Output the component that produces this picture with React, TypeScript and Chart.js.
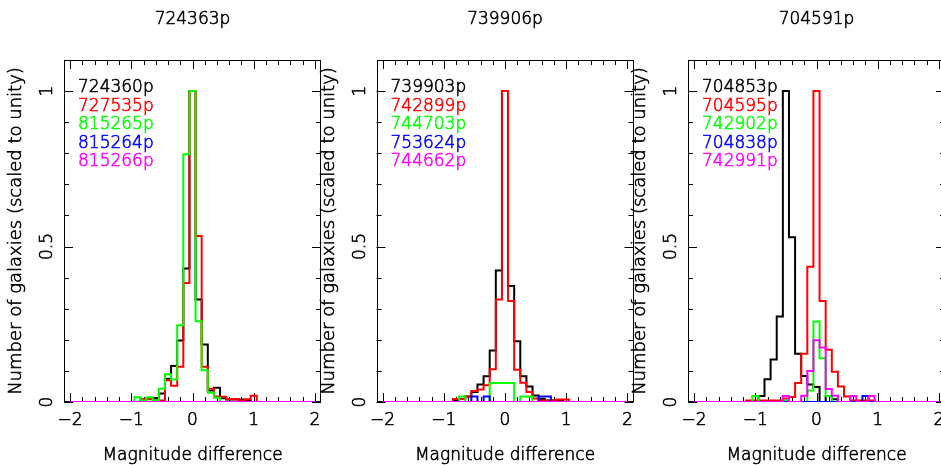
import React, { useEffect, useRef } from "react";
import { Chart, registerables } from "chart.js";

Chart.register(...registerables);

// ---------- data ----------
const BIN_CENTERS = [-1.2, -1.1, -1.0, -0.9, -0.8, -0.7, -0.6, -0.5, -0.4, -0.3, -0.2, -0.1, 0.0, 0.1, 0.2, 0.3, 0.4, 0.5, 0.6, 0.7, 0.8, 0.9, 1.0, 1.1];
const BIN_HALF_WIDTH = 0.05;
const HIST_START = -2;
const HIST_END = 2;

const X_TICK_VALUES = [-2, -1, 0, 1, 2];
const X_TICK_LABELS = ["\u22122", "\u22121", "0", "1", "2"];
const Y_TICK_VALUES = [0, 0.5, 1];
const Y_TICK_LABELS = ["0", "0.5", "1"];

const X_AXIS_TITLE = "Magnitude difference";
const Y_AXIS_TITLE = "Number of galaxies (scaled to unity)";

const SERIES_COLORS = ["#000000", "#ff0000", "#00ff00", "#0000ff", "#ff00ff"];

// Panel 1
const P1_TITLE = "724363p";
const P1_LABELS = ["724360p", "727535p", "815265p", "815264p", "815266p"];
const P1_BLACK = [0, 0, 0, 0, 0.008, 0.01, 0.013, 0.027, 0.075, 0.116, 0.198, 0.429, 1.0, 0.33, 0.185, 0.037, 0.046, 0.012, 0.008, 0.008, 0.008, 0.005, 0, 0];
const P1_RED = [0, 0, 0, 0, 0.01, 0.01, 0.005, 0.005, 0.07, 0.052, 0.113, 0.383, 1.0, 0.534, 0.113, 0.043, 0.018, 0.017, 0.01, 0.01, 0.005, 0.009, 0.02, 0];
const P1_GREEN = [0, 0, 0, 0.015, 0.005, 0.015, 0.005, 0.043, 0.089, 0.072, 0.247, 0.797, 1.0, 0.26, 0.102, 0.03, 0.014, 0, 0, 0, 0, 0, 0, 0];
const P1_BLUE = [0, 0, 0, 0, 0, 0, 0, 0, 0, 0, 0, 0, 0, 0, 0, 0, 0, 0, 0, 0, 0, 0, 0, 0];
const P1_MAGENTA = [0, 0, 0, 0, 0, 0, 0, 0, 0, 0, 0, 0, 0, 0, 0, 0, 0, 0, 0, 0, 0, 0, 0, 0];

// Panel 2
const P2_TITLE = "739906p";
const P2_LABELS = ["739903p", "742899p", "744703p", "753624p", "744662p"];
const P2_BLACK = [0, 0, 0, 0, 0.005, 0.01, 0.018, 0.032, 0.056, 0.083, 0.166, 0.423, 1.0, 0.373, 0.195, 0.083, 0.05, 0.021, 0.01, 0.005, 0.005, 0.005, 0, 0];
const P2_RED = [0, 0, 0, 0, 0.01, 0.01, 0.018, 0.035, 0.04, 0.054, 0.105, 0.33, 1.0, 0.325, 0.104, 0.062, 0.032, 0.011, 0.005, 0.005, 0.005, 0.008, 0.008, 0];
const P2_GREEN = [0, 0, 0, 0, 0, 0.018, 0, 0, 0, 0, 0.061, 0.061, 0.061, 0.061, 0, 0.018, 0.018, 0, 0, 0, 0, 0, 0, 0];
const P2_BLUE = [0, 0, 0, 0, 0, 0, 0, 0.018, 0, 0.018, 0, 0, 0, 0, 0, 0, 0, 0, 0.018, 0.018, 0, 0, 0, 0];
const P2_MAGENTA = [0, 0, 0, 0, 0, 0, 0, 0, 0, 0, 0, 0, 0, 0, 0, 0, 0, 0, 0, 0, 0, 0, 0, 0];

// Panel 3
const P3_TITLE = "704591p";
const P3_LABELS = ["704853p", "704595p", "742902p", "704838p", "742991p"];
const P3_BLACK = [0, 0, 0, 0.019, 0.073, 0.137, 0.275, 1.0, 0.53, 0.155, 0.084, 0.056, 0.048, 0, 0.019, 0.009, 0, 0, 0, 0, 0, 0, 0, 0];
const P3_RED = [0, 0.005, 0.005, 0.005, 0.005, 0.005, 0.005, 0.011, 0.016, 0.061, 0.155, 0.435, 1.0, 0.325, 0.168, 0.097, 0.05, 0.018, 0.005, 0.005, 0.005, 0.005, 0, 0];
const P3_GREEN = [0, 0, 0.019, 0, 0, 0, 0, 0.005, 0, 0, 0, 0.037, 0.259, 0.141, 0.019, 0, 0, 0, 0, 0, 0, 0, 0, 0];
const P3_BLUE = [0, 0, 0, 0, 0, 0, 0, 0, 0, 0, 0, 0, 0, 0, 0, 0, 0, 0, 0, 0, 0.019, 0, 0, 0];
const P3_MAGENTA = [0, 0, 0, 0, 0, 0, 0, 0.019, 0, 0, 0.02, 0.1, 0.199, 0.175, 0.042, 0.02, 0, 0, 0.019, 0, 0, 0.019, 0, 0];

const PANELS = [
  { title: P1_TITLE, labels: P1_LABELS, series: [P1_BLACK, P1_RED, P1_GREEN, P1_BLUE, P1_MAGENTA] },
  { title: P2_TITLE, labels: P2_LABELS, series: [P2_BLACK, P2_RED, P2_GREEN, P2_BLUE, P2_MAGENTA] },
  { title: P3_TITLE, labels: P3_LABELS, series: [P3_BLACK, P3_RED, P3_GREEN, P3_BLUE, P3_MAGENTA] },
];

// ---------- layout ----------
const VIEW_W = 941;
const VIEW_H = 465;
const CANVAS_W = 960;
const PANEL_LEFTS = [64, 376.5, 688];
const PLOT_W = 257;
const PLOT_TOP = 60;
const PLOT_BOTTOM = 402;
const FONT = '200 17px "DejaVu Sans"';
const FONT_YTITLE = '200 18px "DejaVu Sans"';
const TEXT_STROKE = 0.6;

function stepPoints(values: number[]) {
  const pts: { x: number; y: number }[] = [{ x: HIST_START, y: 0 }];
  values.forEach((v, i) => pts.push({ x: BIN_CENTERS[i] - BIN_HALF_WIDTH, y: v }));
  pts.push({ x: BIN_CENTERS[BIN_CENTERS.length - 1] + BIN_HALF_WIDTH, y: 0 });
  pts.push({ x: HIST_END, y: 0 });
  return pts;
}

function drawText(ctx: CanvasRenderingContext2D, text: string, x: number, y: number, color: string) {
  ctx.fillStyle = color;
  ctx.strokeStyle = color;
  ctx.lineWidth = TEXT_STROKE;
  ctx.fillText(text, x, y);
  ctx.strokeText(text, x, y);
}

const framePlugin = {
  id: "pgFrame",
  beforeDatasetsDraw(chart: any) {
    const { ctx, chartArea: a, scales } = chart;
    const x = scales.x;
    const y = scales.y;
    ctx.save();
    ctx.strokeStyle = "#000";
    ctx.lineWidth = 1;
    ctx.strokeRect(Math.round(a.left) + 0.5, Math.round(a.top) + 0.5, Math.round(a.right - a.left) - 1, Math.round(a.bottom - a.top) - 1);
    ctx.beginPath();
    for (let i = 0; i <= 20; i++) {
      const v = -2 + i * 0.2;
      const major = i % 5 === 0;
      const len = major ? 9 : 5;
      const px = Math.round(x.getPixelForValue(v)) + 0.5;
      ctx.moveTo(px, a.bottom);
      ctx.lineTo(px, a.bottom - len);
      ctx.moveTo(px, a.top);
      ctx.lineTo(px, a.top + len);
    }
    for (let i = 0; i <= 10; i++) {
      const v = i * 0.1;
      const major = i % 5 === 0;
      const len = major ? 9 : 5;
      const py = Math.round(y.getPixelForValue(v)) + 0.5;
      ctx.moveTo(a.left, py);
      ctx.lineTo(a.left + len, py);
      ctx.moveTo(a.right, py);
      ctx.lineTo(a.right - len, py);
    }
    ctx.stroke();
    ctx.restore();
  },
  afterDraw(chart: any, _args: any, opts: any) {
    const { ctx, chartArea: a, scales } = chart;
    const x = scales.x;
    const y = scales.y;
    const cx = (a.left + a.right) / 2;
    ctx.save();
    ctx.font = FONT;
    ctx.lineJoin = "round";
    ctx.textAlign = "center";
    ctx.textBaseline = "alphabetic";
    drawText(ctx, opts.title, cx, 24, "#000");
    X_TICK_VALUES.forEach((v, i) => {
      drawText(ctx, X_TICK_LABELS[i], x.getPixelForValue(v), 425, "#000");
    });
    drawText(ctx, X_AXIS_TITLE, cx, 460, "#000");
    Y_TICK_VALUES.forEach((v, i) => {
      ctx.save();
      ctx.translate(a.left - 12, y.getPixelForValue(v));
      ctx.rotate(-Math.PI / 2);
      ctx.textAlign = "center";
      drawText(ctx, Y_TICK_LABELS[i], 0, 0, "#000");
      ctx.restore();
    });
    ctx.save();
    ctx.font = FONT_YTITLE;
    ctx.translate(a.left - 43, (a.top + a.bottom) / 2);
    ctx.rotate(-Math.PI / 2);
    ctx.textAlign = "center";
    drawText(ctx, Y_AXIS_TITLE, 0, 0, "#000");
    ctx.restore();
    ctx.textAlign = "left";
    chart.data.datasets.forEach((ds: any, i: number) => {
      drawText(ctx, ds.label, a.left + 14, 92 + i * 18.6, ds.borderColor);
    });
    ctx.restore();
  },
};

function buildChart(canvas: HTMLCanvasElement, panelIndex: number) {
  const panel = PANELS[panelIndex];
  const left = PANEL_LEFTS[panelIndex];
  const datasets = panel.series.map((vals, i) => ({
    label: panel.labels[i],
    data: stepPoints(vals),
    borderColor: SERIES_COLORS[i],
    backgroundColor: SERIES_COLORS[i],
    borderWidth: 2,
    stepped: "before" as const,
    pointRadius: 0,
    fill: false,
    borderJoinStyle: "miter" as const,
    order: panel.series.length - 1 - i,
  }));
  return new Chart(canvas, {
    type: "line",
    data: { datasets },
    options: {
      responsive: false,
      animation: false,
      devicePixelRatio: 1,
      events: [],
      layout: {
        padding: {
          left,
          right: CANVAS_W - (left + PLOT_W),
          top: PLOT_TOP,
          bottom: VIEW_H - PLOT_BOTTOM,
        },
      },
      scales: {
        x: { type: "linear", min: -2.1, max: 2.1, display: false },
        y: { type: "linear", min: 0, max: 1.1, display: false },
      },
      plugins: {
        legend: { display: false },
        tooltip: { enabled: false },
        pgFrame: { title: panel.title },
      } as any,
    },
    plugins: [framePlugin],
  } as any);
}

export default function App() {
  const r0 = useRef<HTMLCanvasElement>(null);
  const r1 = useRef<HTMLCanvasElement>(null);
  const r2 = useRef<HTMLCanvasElement>(null);

  useEffect(() => {
    const refs = [r0, r1, r2];
    const charts = refs.map((r, i) => buildChart(r.current as HTMLCanvasElement, i));
    return () => charts.forEach((c) => c.destroy());
  }, []);

  const canvasStyle: React.CSSProperties = {
    position: "absolute",
    left: 0,
    top: 0,
    width: CANVAS_W,
    height: VIEW_H,
  };

  return (
    <div
      style={{
        position: "fixed",
        left: 0,
        top: 0,
        width: VIEW_W,
        height: VIEW_H,
        overflow: "hidden",
        background: "#ffffff",
      }}
    >
      <canvas ref={r0} width={CANVAS_W} height={VIEW_H} style={canvasStyle} />
      <canvas ref={r1} width={CANVAS_W} height={VIEW_H} style={canvasStyle} />
      <canvas ref={r2} width={CANVAS_W} height={VIEW_H} style={canvasStyle} />
    </div>
  );
}
